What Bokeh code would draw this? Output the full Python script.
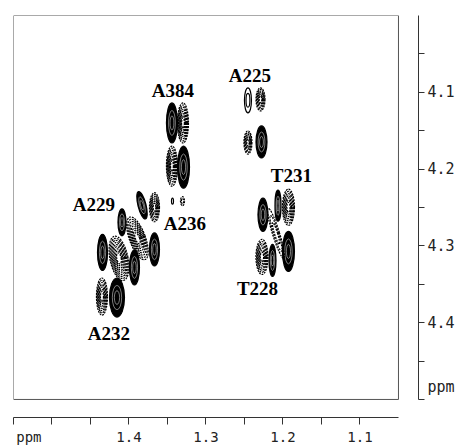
import numpy as np
from bokeh.plotting import figure
from bokeh.models import Range1d, LinearAxis, FixedTicker, ColumnDataSource
from bokeh.embed import file_html
from bokeh.resources import INLINE
from bokeh.core.properties import value

# ---- data -------------------------------------------------------------
x_limits = [1.55, 1.05]
y_limits = [4.0, 4.5]
x_label_ticks = [1.53, 1.4, 1.3, 1.2, 1.1]
x_tick_labels = ["ppm", "1.4", "1.3", "1.2", "1.1"]
x_mark_ticks = [1.55, 1.5, 1.45, 1.4, 1.35, 1.3, 1.25, 1.2, 1.15, 1.1]
y_label_ticks = [4.1, 4.2, 4.3, 4.4, 4.484]
y_tick_labels = ["4.1", "4.2", "4.3", "4.4", "ppm"]
y_mark_ticks = [4.05, 4.1, 4.15, 4.2, 4.25, 4.3, 4.35, 4.4, 4.45, 4.5]

peak_x = [1.3442, 1.3299, 1.3442, 1.3292, 1.3435, 1.3305,
          1.3831, 1.3669, 1.4091, 1.3890, 1.3669, 1.4344, 1.4130, 1.3929, 1.4351, 1.4156,
          1.2455, 1.2292, 1.2455, 1.2279,
          1.2260, 1.2065, 1.1929, 1.2091, 1.1929, 1.2273, 1.2136]
peak_y = [4.1399, 4.1399, 4.1961, 4.1974, 4.2418, 4.2418,
          4.2471, 4.2497, 4.2693, 4.2902, 4.3046, 4.3085, 4.3163, 4.3281, 4.3660, 4.3673,
          4.1105, 4.1092, 4.1654, 4.1647,
          4.2595, 4.2477, 4.2497, 4.2837, 4.3072, 4.3144, 4.3190]
peak_w = [0.0143, 0.0143, 0.0143, 0.0156, 0.0026, 0.0052,
          0.0104, 0.0130, 0.0104, 0.0208, 0.0130, 0.0130, 0.0234, 0.0130, 0.0143, 0.0195,
          0.0091, 0.0117, 0.0104, 0.0143,
          0.0130, 0.0078, 0.0156, 0.0091, 0.0156, 0.0156, 0.0091]
peak_h = [0.0523, 0.0523, 0.0523, 0.0549, 0.0078, 0.0118,
          0.0366, 0.0379, 0.0353, 0.0588, 0.0431, 0.0471, 0.0588, 0.0458, 0.0484, 0.0510,
          0.0327, 0.0301, 0.0301, 0.0418,
          0.0431, 0.0405, 0.0471, 0.0680, 0.0523, 0.0458, 0.0418]
peak_sign = [1, -1, -1, 1, 1, -1,
             1, -1, 1, -1, 1, 1, -1, 1, -1, 1,
             1, -1, -1, 1,
             1, 1, -1, -1, 1, -1, 1]
# 0 = open (unfilled) positive contour, 1 = filled positive
peak_filled = [1, 0, 0, 1, 0, 0,
               1, 0, 1, 0, 1, 1, 0, 1, 0, 1,
               0, 0, 0, 1,
               1, 1, 0, 0, 1, 0, 1]
peak_levels = [9, 8, 8, 9, 1, 2,
               7, 7, 7, 8, 7, 8, 9, 8, 7, 9,
               2, 6, 6, 7,
               7, 6, 7, 3, 8, 7, 7]
peak_angle = [0, 0, 0, 0, 0, 0,
              0.25, 0, 0, 0.35, 0, 0, 0.2, 0, 0, 0,
              0, 0, 0, 0,
              0, 0, 0, 0.3, 0, 0, 0]

label_text = ["A384", "A225", "T231", "A229", "A236", "T228", "A232"]
label_x = [1.3429, 1.2429, 1.1890, 1.4455, 1.3273, 1.2331, 1.4260]
label_y = [4.098, 4.078, 4.209, 4.2464, 4.2712, 4.3549, 4.4144]

# ---- build contour rings from the peak lists ---------------------------
fill = dict(x=[], y=[], w=[], h=[], a=[])
pos = dict(x=[], y=[], w=[], h=[], a=[])
inner = dict(x=[], y=[], w=[], h=[], a=[])
neg = dict(x=[], y=[], w=[], h=[], a=[])


def add(d, i, f):
    d["x"].append(peak_x[i])
    d["y"].append(peak_y[i])
    d["w"].append(peak_w[i] * f)
    d["h"].append(peak_h[i] * f)
    d["a"].append(peak_angle[i])


for i in range(len(peak_x)):
    n = peak_levels[i]
    if peak_sign[i] > 0 and peak_filled[i]:
        add(fill, i, 1.0)
        for f in (0.62, 0.35):
            add(inner, i, f)
    elif peak_sign[i] > 0:
        for k in range(n):
            add(pos, i, 1.0 - k * 0.45)
    else:
        for k in range(n):
            add(neg, i, 1.0 - k * (0.85 / n))

p = figure(frame_width=405, frame_height=402,
           x_range=Range1d(1.55, 1.024), y_range=Range1d(4.5235, 4.0),
           output_backend="svg", toolbar_location=None,
           x_axis_location=None, y_axis_location=None,
           min_border_left=13, min_border_top=15, min_border_right=0, min_border_bottom=0)
p.grid.visible = False
p.outline_line_color = None
p.background_fill_color = "white"

# frame box of the spectrum
p.quad(left=[x_limits[0]], right=[x_limits[1]], top=[y_limits[0]], bottom=[y_limits[1]],
       fill_color=None, line_color="#555555", line_width=1)

p.ellipse(x="x", y="y", width="w", height="h", angle="a", source=ColumnDataSource(fill),
          fill_color="black", line_color="black", line_width=1.2)
p.ellipse(x="x", y="y", width="w", height="h", angle="a", source=ColumnDataSource(inner),
          fill_color=None, line_color="white", line_width=0.6, line_alpha=0.8)
p.ellipse(x="x", y="y", width="w", height="h", angle="a", source=ColumnDataSource(pos),
          fill_color=None, line_color="black", line_width=1.2)
p.ellipse(x="x", y="y", width="w", height="h", angle="a", source=ColumnDataSource(neg),
          fill_color=None, line_color="black", line_width=1.2, line_dash="2 1")

p.text(x=label_x, y=label_y, text=label_text, text_font=value("Liberation Serif"),
       text_font_style="bold", text_font_size="19px", text_align="center",
       text_baseline="middle", text_color="black")

mono = "DejaVu Sans Mono"

xa = LinearAxis(ticker=FixedTicker(ticks=x_label_ticks, minor_ticks=x_mark_ticks),
                bounds=(min(x_limits), max(x_limits)))
xa.major_label_overrides = {t: l for t, l in zip(x_label_ticks, x_tick_labels)}
xa.axis_line_color = "#333333"
xa.minor_tick_line_color = "#333333"
xa.major_tick_in = 0
xa.major_tick_out = 0
xa.minor_tick_in = 0
xa.minor_tick_out = 7
xa.major_label_standoff = 4
xa.major_label_text_font = mono
xa.major_label_text_font_size = "14px"
xa.major_label_text_color = "#222222"
p.add_layout(xa, "below")

ya = LinearAxis(ticker=FixedTicker(ticks=y_label_ticks, minor_ticks=y_mark_ticks),
                bounds=(min(y_limits), max(y_limits)))
ya.major_label_overrides = {t: l for t, l in zip(y_label_ticks, y_tick_labels)}
ya.axis_line_color = "#333333"
ya.minor_tick_line_color = "#333333"
ya.major_tick_in = 0
ya.major_tick_out = 0
ya.minor_tick_in = 0
ya.minor_tick_out = 6
ya.major_label_standoff = 3
ya.major_label_text_font = mono
ya.major_label_text_font_size = "15px"
ya.major_label_text_color = "#222222"
p.add_layout(ya, "right")

open("out.html", "w").write(file_html(p, INLINE))
